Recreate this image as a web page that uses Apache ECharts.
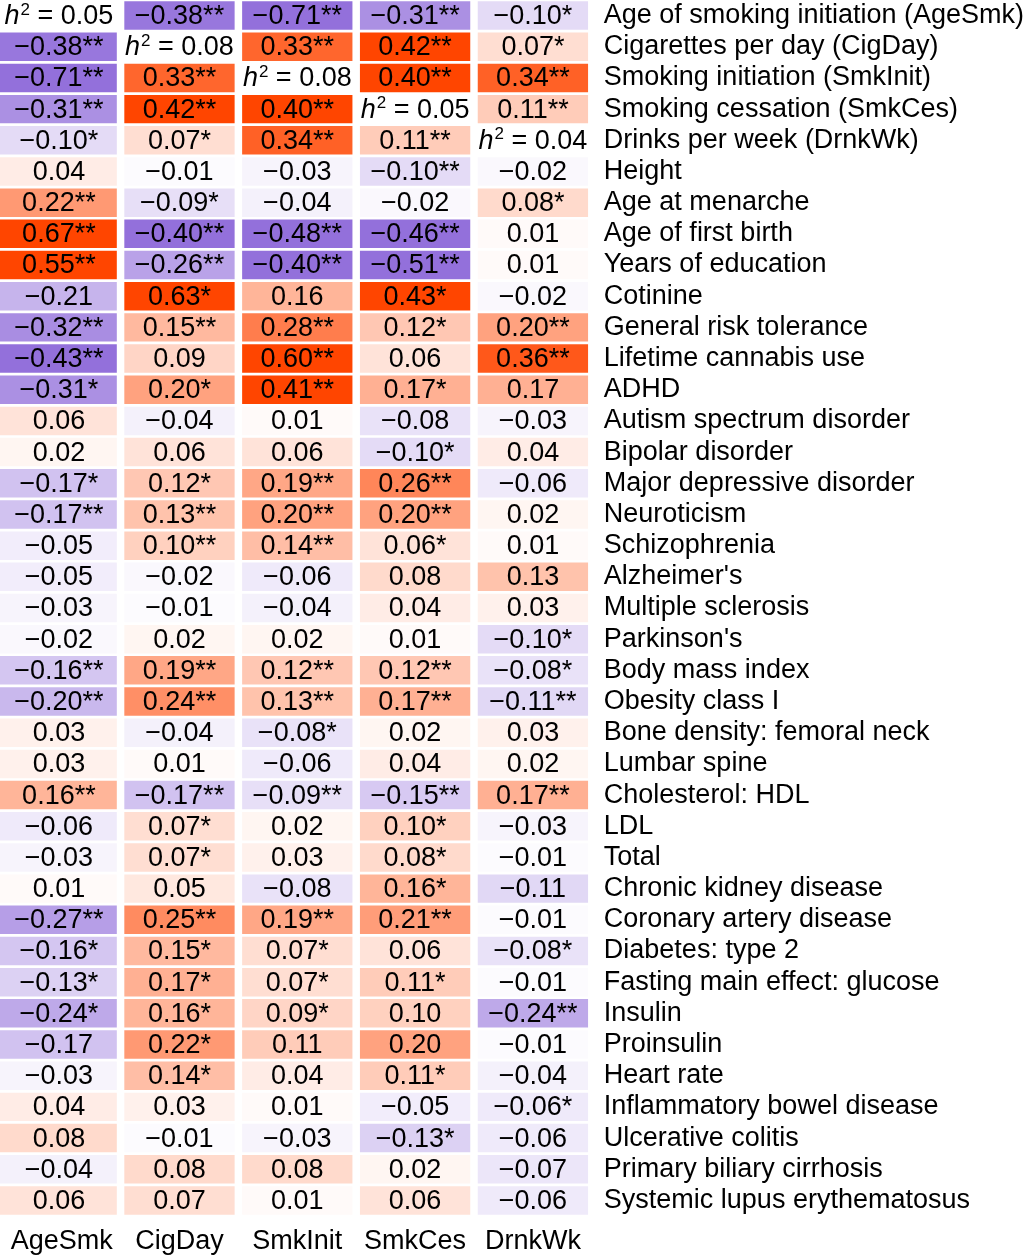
<!DOCTYPE html>
<html>
<head>
<meta charset="utf-8">
<script src="https://cdn.jsdelivr.net/npm/echarts@6/dist/echarts.min.js"></script>
<style>
  html, body { margin: 0; padding: 0; background: #fff; }
  #chart { width: 1027px; height: 1255px; }
</style>
</head>
<body>
<div id="chart"></div>
<script>
// ---------- data ----------
var columns = ['AgeSmk', 'CigDay', 'SmkInit', 'SmkCes', 'DrnkWk'];

var traits = [
  'Age of smoking initiation (AgeSmk)', 'Cigarettes per day (CigDay)', 'Smoking initiation (SmkInit)',
  'Smoking cessation (SmkCes)', 'Drinks per week (DrnkWk)', 'Height', 'Age at menarche',
  'Age of first birth', 'Years of education', 'Cotinine', 'General risk tolerance',
  'Lifetime cannabis use', 'ADHD', 'Autism spectrum disorder', 'Bipolar disorder',
  'Major depressive disorder', 'Neuroticism', 'Schizophrenia', "Alzheimer's", 'Multiple sclerosis',
  "Parkinson's", 'Body mass index', 'Obesity class I', 'Bone density: femoral neck', 'Lumbar spine',
  'Cholesterol: HDL', 'LDL', 'Total', 'Chronic kidney disease', 'Coronary artery disease',
  'Diabetes: type 2', 'Fasting main effect: glucose', 'Insulin', 'Proinsulin', 'Heart rate',
  'Inflammatory bowel disease', 'Ulcerative colitis', 'Primary biliary cirrhosis',
  'Systemic lupus erythematosus'
];

// heritability shown on the diagonal
var h2 = [0.05, 0.08, 0.08, 0.05, 0.04];

// genetic correlations, one row per trait, one value per column (null = diagonal)
var rg = [
  [null, -0.38, -0.71, -0.31, -0.10],
  [-0.38, null, 0.33, 0.42, 0.07],
  [-0.71, 0.33, null, 0.40, 0.34],
  [-0.31, 0.42, 0.40, null, 0.11],
  [-0.10, 0.07, 0.34, 0.11, null],
  [0.04, -0.01, -0.03, -0.10, -0.02],
  [0.22, -0.09, -0.04, -0.02, 0.08],
  [0.67, -0.40, -0.48, -0.46, 0.01],
  [0.55, -0.26, -0.40, -0.51, 0.01],
  [-0.21, 0.63, 0.16, 0.43, -0.02],
  [-0.32, 0.15, 0.28, 0.12, 0.20],
  [-0.43, 0.09, 0.60, 0.06, 0.36],
  [-0.31, 0.20, 0.41, 0.17, 0.17],
  [0.06, -0.04, 0.01, -0.08, -0.03],
  [0.02, 0.06, 0.06, -0.10, 0.04],
  [-0.17, 0.12, 0.19, 0.26, -0.06],
  [-0.17, 0.13, 0.20, 0.20, 0.02],
  [-0.05, 0.10, 0.14, 0.06, 0.01],
  [-0.05, -0.02, -0.06, 0.08, 0.13],
  [-0.03, -0.01, -0.04, 0.04, 0.03],
  [-0.02, 0.02, 0.02, 0.01, -0.10],
  [-0.16, 0.19, 0.12, 0.12, -0.08],
  [-0.20, 0.24, 0.13, 0.17, -0.11],
  [0.03, -0.04, -0.08, 0.02, 0.03],
  [0.03, 0.01, -0.06, 0.04, 0.02],
  [0.16, -0.17, -0.09, -0.15, 0.17],
  [-0.06, 0.07, 0.02, 0.10, -0.03],
  [-0.03, 0.07, 0.03, 0.08, -0.01],
  [0.01, 0.05, -0.08, 0.16, -0.11],
  [-0.27, 0.25, 0.19, 0.21, -0.01],
  [-0.16, 0.15, 0.07, 0.06, -0.08],
  [-0.13, 0.17, 0.07, 0.11, -0.01],
  [-0.24, 0.16, 0.09, 0.10, -0.24],
  [-0.17, 0.22, 0.11, 0.20, -0.01],
  [-0.03, 0.14, 0.04, 0.11, -0.04],
  [0.04, 0.03, 0.01, -0.05, -0.06],
  [0.08, -0.01, -0.03, -0.13, -0.06],
  [-0.04, 0.08, 0.08, 0.02, -0.07],
  [0.06, 0.07, 0.01, 0.06, -0.06]
];

// significance marks
var sig = [
  ['', '**', '**', '**', '*'],
  ['**', '', '**', '**', '*'],
  ['**', '**', '', '**', '**'],
  ['**', '**', '**', '', '**'],
  ['*', '*', '**', '**', ''],
  ['', '', '', '**', ''],
  ['**', '*', '', '', '*'],
  ['**', '**', '**', '**', ''],
  ['**', '**', '**', '**', ''],
  ['', '*', '', '*', ''],
  ['**', '**', '**', '*', '**'],
  ['**', '', '**', '', '**'],
  ['*', '*', '**', '*', ''],
  ['', '', '', '', ''],
  ['', '', '', '*', ''],
  ['*', '*', '**', '**', ''],
  ['**', '**', '**', '**', ''],
  ['', '**', '**', '*', ''],
  ['', '', '', '', ''],
  ['', '', '', '', ''],
  ['', '', '', '', '*'],
  ['**', '**', '**', '**', '*'],
  ['**', '**', '**', '**', '**'],
  ['', '', '*', '', ''],
  ['', '', '', '', ''],
  ['**', '**', '**', '**', '**'],
  ['', '*', '', '*', ''],
  ['', '*', '', '*', ''],
  ['', '', '', '*', ''],
  ['**', '**', '**', '**', ''],
  ['*', '*', '*', '', '*'],
  ['*', '*', '*', '*', ''],
  ['*', '*', '*', '', '**'],
  ['', '*', '', '', ''],
  ['', '*', '', '*', ''],
  ['', '', '', '', '*'],
  ['', '', '', '*', ''],
  ['', '', '', '', ''],
  ['', '', '', '', '']
];

// ---------- chart ----------
var FONT = "'Liberation Sans', Arial, Helvetica, sans-serif";
var FS = 27;
var GAP_X = 7.5, GAP_Y = 2.7;

function fmt(v) {
  var s = Math.abs(v).toFixed(2);
  return (v < 0 ? '\u2212' : '') + s;
}

var cells = [];
traits.forEach(function (t, r) {
  columns.forEach(function (c, ci) {
    cells.push([ci, r, rg[r][ci]]);
  });
});

function renderCell(params, api) {
  var c = api.value(0), r = api.value(1);
  var p = api.coord([c, r]);
  var size = api.size([1, 1]);
  var w = size[0] - GAP_X, h = size[1] - GAP_Y;
  var x0 = p[0] - w / 2, y0 = p[1] - h / 2;
  var cx = p[0];
  if (c === 0) { w += x0; x0 = 0; cx = w / 2 + 0.5; }
  var diag = rg[r][c] === null;
  var fill = diag ? '#ffffff' : api.visual('color');
  var textStyle;
  if (diag) {
    textStyle = {
      text: '{i|h}{s|2}{n| = ' + h2[c].toFixed(2) + '}',
      x: cx, y: p[1] + 1,
      align: 'center', verticalAlign: 'middle',
      rich: {
        i: { fontFamily: FONT, fontSize: FS, fontStyle: 'italic', fill: '#000', lineHeight: 30 },
        s: { fontFamily: FONT, fontSize: 17, fill: '#000', verticalAlign: 'top', lineHeight: 30, padding: [0, 0, 0, 1] },
        n: { fontFamily: FONT, fontSize: FS, fill: '#000', lineHeight: 30 }
      }
    };
  } else {
    textStyle = {
      text: fmt(rg[r][c]) + sig[r][c],
      x: cx, y: p[1] + 1,
      align: 'center', verticalAlign: 'middle',
      font: FS + 'px ' + FONT,
      fill: '#000'
    };
  }
  return {
    type: 'group',
    children: [
      { type: 'rect', shape: { x: x0, y: y0, width: w, height: h }, style: { fill: fill } },
      { type: 'text', style: textStyle }
    ]
  };
}

var chart = echarts.init(document.getElementById('chart'), null, { renderer: 'canvas' });

chart.setOption({
  backgroundColor: '#ffffff',
  animation: false,
  grid: { left: 2.75, width: 592.5, top: 0, height: 1216 },
  xAxis: {
    type: 'category',
    data: columns,
    position: 'bottom',
    axisLine: { show: false },
    axisTick: { show: false },
    splitLine: { show: false },
    axisLabel: { color: '#000', fontSize: FS, fontFamily: FONT, margin: 12, interval: 0 }
  },
  yAxis: {
    type: 'category',
    data: traits,
    inverse: true,
    position: 'right',
    axisLine: { show: false },
    axisTick: { show: false },
    splitLine: { show: false },
    axisLabel: { color: '#000', fontSize: FS, fontFamily: FONT, margin: 12, align: 'left', interval: 0 }
  },
  visualMap: {
    show: false,
    type: 'continuous',
    min: -0.4,
    max: 0.4,
    dimension: 2,
    seriesIndex: 0,
    inRange: { color: ['#9370DB', '#FFFFFF', '#FF4500'] }
  },
  series: [{
    type: 'custom',
    renderItem: renderCell,
    encode: { x: 0, y: 1 },
    data: cells
  }]
});
</script>
</body>
</html>
